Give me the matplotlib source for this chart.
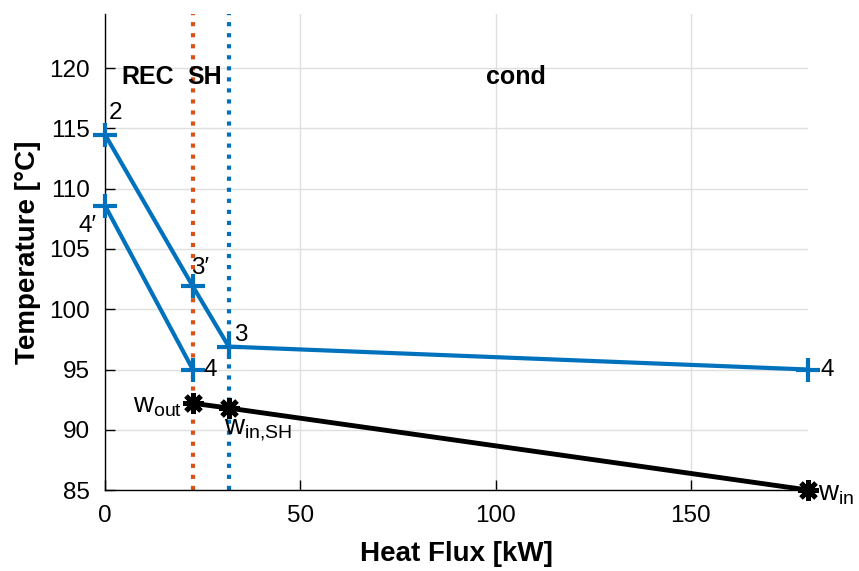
import numpy as np
import matplotlib
matplotlib.use('Agg')
import matplotlib.pyplot as plt

# DATA
q_rec = 22.5
q_sh = 31.7
q_tot = 180.0
hot_x = [0, q_rec, q_sh, q_tot]
hot_y = [114.5, 101.9, 96.9, 95.0]
rec_x = [0, q_rec]
rec_y = [108.6, 95.0]
water_x = [q_rec, q_sh, q_tot]
water_y = [92.2, 91.8, 85.0]
zone_names = ['REC', 'SH', 'cond']
zone_x = [4.3, 21.2, 97.5]

blue = '#0072BD'
orange = '#D95319'

plt.rcParams['font.family'] = ['Liberation Sans', 'DejaVu Sans']
plt.rcParams['mathtext.fontset'] = 'custom'
plt.rcParams['mathtext.rm'] = 'Liberation Sans'
plt.rcParams['mathtext.it'] = 'Liberation Sans'

fig = plt.figure(figsize=(8.59, 5.71), dpi=100)
ax = fig.add_axes([0.1222, 0.1418, 0.8184, 0.8337])

ax.grid(True, color='#dfdfdf', linewidth=1)
ax.set_axisbelow(True)

ax.axvline(q_rec, color=orange, linestyle=':', linewidth=3)
ax.axvline(q_sh, color=blue, linestyle=':', linewidth=3)

ax.plot(hot_x, hot_y, color=blue, linewidth=3, marker='+', markersize=17,
        markeredgewidth=3, clip_on=False, zorder=3)
ax.plot(rec_x, rec_y, color=blue, linewidth=3, marker='+', markersize=17,
        markeredgewidth=3, clip_on=False, zorder=3)
ax.plot(water_x, water_y, color='black', linewidth=3.5, marker=(8, 2, 0), markersize=15,
        markeredgewidth=3.5, clip_on=False, zorder=3)

fs = 17.5
fw = 20
for name, zx in zip(zone_names, zone_x):
    ax.text(zx, 119.3, name, fontsize=18, fontweight='bold', va='center', ha='left')

ax.text(0.9, 116.3, '2', fontsize=fs, va='center', ha='left')
ax.text(-2.2, 106.9, '4\u2032', fontsize=fs, va='center', ha='right')
ax.text(q_rec - 0.5, 103.4, '3\u2032', fontsize=fs, va='center', ha='left')
ax.text(q_sh + 1.3, 97.9, '3', fontsize=fs, va='center', ha='left')
ax.text(q_rec + 2.8, 95.0, '4', fontsize=fs, va='center', ha='left')
ax.text(q_tot + 3.2, 95.0, '4', fontsize=fs, va='center', ha='left')
ax.text(q_rec - 2.8, 92.0, r'w$_{\mathrm{out}}$', fontsize=fw, va='center', ha='right')
ax.text(q_sh - 1.2, 90.0, r'w$_{\mathrm{in{,}SH}}$', fontsize=fw, va='center', ha='left')
ax.text(q_tot + 2.5, 84.7, r'w$_{\mathrm{in}}$', fontsize=fw, va='center', ha='left')

ax.set_xlim(0, 180)
ax.set_ylim(85, 124.5)
ax.set_xticks([0, 50, 100, 150])
ax.set_yticks([85, 90, 95, 100, 105, 110, 115, 120])
ax.tick_params(direction='in', labelsize=17.5, length=7, width=1, pad=11)
for s in ['top', 'right']:
    ax.spines[s].set_visible(False)
for s in ['left', 'bottom']:
    ax.spines[s].set_linewidth(1)

ax.set_xlabel('Heat Flux [kW]', fontsize=20, fontweight='bold', labelpad=10)
ax.set_ylabel('Temperature [\u00b0C]', fontsize=20, fontweight='bold', labelpad=6)

fig.savefig('out.png', dpi=100)
